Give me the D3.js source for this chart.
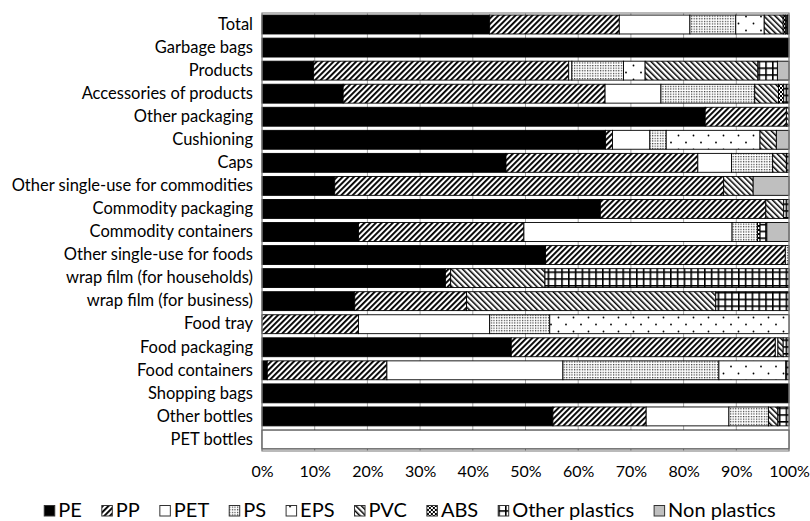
<!DOCTYPE html>
<html>
<head>
<meta charset="utf-8">
<script src="https://cdn.jsdelivr.net/npm/d3@7"></script>
<style>
  body { margin: 0; background: #fff; }
  text { font-family: Lato, "Open Sans", sans-serif; fill: #000; }
</style>
</head>
<body>
<div id="chart"></div>
<script>
const categories = [
  "Total", "Garbage bags", "Products", "Accessories of products", "Other packaging",
  "Cushioning", "Caps", "Other single-use for commodities", "Commodity packaging",
  "Commodity containers", "Other single-use for foods", "wrap film (for households)",
  "wrap film (for business)", "Food tray", "Food packaging", "Food containers",
  "Shopping bags", "Other bottles", "PET bottles"
];

const seriesNames = ["PE", "PP", "PET", "PS", "EPS", "PVC", "ABS", "Other plastics", "Non plastics"];

// percentages, one value per category (same order as above)
const PE    = [43.2, 100, 9.8, 15.4, 84.1, 65.2, 46.3, 13.8, 64.2, 18.3, 53.8, 34.8, 17.6, 0, 47.3, 1.0, 100, 55.2, 0];
const PP    = [24.6, 0, 48.4, 49.7, 15.4, 1.3, 36.4, 73.8, 31.4, 31.4, 45.5, 1.0, 21.2, 18.3, 50.1, 22.7, 0, 17.7, 0];
const PET   = [13.4, 0, 0.6, 10.6, 0, 7.1, 6.4, 0, 0, 39.5, 0, 0, 0, 24.9, 0.5, 33.4, 0, 15.7, 100];
const PS    = [8.7, 0, 9.8, 17.8, 0, 3.1, 7.8, 0, 0, 4.8, 0.7, 0, 0, 11.4, 0, 29.6, 0, 7.5, 0];
const EPS   = [5.4, 0, 4.1, 0, 0, 17.8, 0, 0, 0, 0, 0, 0, 0, 45.4, 0, 12.7, 0, 0, 0];
const PVC   = [3.6, 0, 21.4, 4.5, 0.5, 3.1, 2.6, 5.6, 3.4, 0, 0, 17.9, 47.3, 0, 1.0, 0, 0, 1.8, 0];
const ABS   = [0.4, 0, 0, 1.0, 0, 0, 0, 0, 0, 0.5, 0, 0, 0, 0, 0, 0, 0, 0, 0];
const otherPlastics = [0.4, 0, 3.7, 1.0, 0, 0, 0.5, 0, 1.0, 1.3, 0, 46.3, 13.9, 0, 1.1, 0.6, 0, 2.1, 0];
const nonPlastics   = [0.3, 0, 2.2, 0, 0, 2.4, 0, 6.8, 0, 4.2, 0, 0, 0, 0, 0, 0, 0, 0, 0];

const tickValues = [0, 0.1, 0.2, 0.3, 0.4, 0.5, 0.6, 0.7, 0.8, 0.9, 1];

const seriesValues = [PE, PP, PET, PS, EPS, PVC, ABS, otherPlastics, nonPlastics];

class StackedBarChart {
  constructor() {
    this.margin = { top: 13, right: 21, bottom: 70, left: 262 };
    this.width = 810 - this.margin.left - this.margin.right;
    this.height = 521 - this.margin.top - this.margin.bottom;

    this.svg = d3.select("#chart")
      .append("svg")
      .attr("width", 810)
      .attr("height", 521);

    this.defs = this.svg.append("defs");
    this.makePatterns();

    this.chart = this.svg.append("g")
      .attr("transform", `translate(${this.margin.left},${this.margin.top})`);

    // build rows for d3.stack
    this.rows = categories.map((c, i) => {
      const row = { category: c };
      seriesNames.forEach((s, j) => { row[s] = seriesValues[j][i]; });
      return row;
    });

    this.drawChart();
    this.drawLegend();
  }

  makePatterns() {
    const addPattern = (id, w, h) => {
      const p = this.defs.append("pattern")
        .attr("id", id)
        .attr("patternUnits", "userSpaceOnUse")
        .attr("width", w)
        .attr("height", h);
      p.append("rect").attr("width", w).attr("height", h).attr("fill", "#fff");
      return p;
    };

    // PP: wide upward diagonal
    const pp = addPattern("pat-pp", 4, 4).attr("patternTransform", "rotate(45)");
    pp.append("rect").attr("width", 1.9).attr("height", 4).attr("fill", "#000");

    // PS: fine dots
    const ps = addPattern("pat-ps", 2.6, 2.6);
    ps.append("rect").attr("x", 0).attr("y", 0).attr("width", 1.2).attr("height", 1.2).attr("fill", "#333");

    // EPS: sparse dots
    const eps = addPattern("pat-eps", 15, 14);
    eps.append("circle").attr("cx", 4).attr("cy", 3.5).attr("r", 0.9).attr("fill", "#000");
    eps.append("circle").attr("cx", 11.5).attr("cy", 10.5).attr("r", 0.9).attr("fill", "#000");

    // PVC: downward diagonal
    const pvc = addPattern("pat-pvc", 4, 4).attr("patternTransform", "rotate(-45)");
    pvc.append("rect").attr("width", 1.5).attr("height", 4).attr("fill", "#000");

    // ABS: small checker
    const abs = addPattern("pat-abs", 4, 4);
    abs.append("rect").attr("width", 2).attr("height", 2).attr("fill", "#000");
    abs.append("rect").attr("x", 2).attr("y", 2).attr("width", 2).attr("height", 2).attr("fill", "#000");

    // Other plastics: grid
    const grid = addPattern("pat-grid", 6.8, 6.8);
    grid.append("rect").attr("width", 6.8).attr("height", 1.6).attr("fill", "#000");
    grid.append("rect").attr("width", 1.6).attr("height", 6.8).attr("fill", "#000");
  }

  getFill(name) {
    if (name === "PE") {
      return "#000";
    } else if (name === "PP") {
      return "url(#pat-pp)";
    } else if (name === "PET") {
      return "#fff";
    } else if (name === "PS") {
      return "url(#pat-ps)";
    } else if (name === "EPS") {
      return "url(#pat-eps)";
    } else if (name === "PVC") {
      return "url(#pat-pvc)";
    } else if (name === "ABS") {
      return "url(#pat-abs)";
    } else if (name === "Other plastics") {
      return "url(#pat-grid)";
    }
    return "#bfbfbf";
  }

  drawChart() {
    this.xScale = d3.scaleLinear().domain([0, 1]).range([0, this.width]);
    this.yScale = d3.scaleBand()
      .domain(categories)
      .range([0, this.height])
      .paddingInner(0.18)
      .paddingOuter(0.09);

    // gridlines
    this.chart.append("g")
      .attr("class", "grid")
      .selectAll("line")
      .data(tickValues)
      .enter().append("line")
      .attr("x1", d => this.xScale(d))
      .attr("x2", d => this.xScale(d))
      .attr("y1", 0)
      .attr("y2", this.height)
      .style("stroke", "#a6a6a6")
      .style("stroke-width", 1);

    const stack = d3.stack()
      .keys(seriesNames)
      .offset(d3.stackOffsetExpand);
    const stacked = stack(this.rows);

    const layers = this.chart.selectAll(".layer")
      .data(stacked)
      .enter().append("g")
      .attr("class", "layer")
      .attr("fill", d => this.getFill(d.key));

    layers.selectAll("rect")
      .data(d => d.filter(p => p[1] - p[0] > 0))
      .enter().append("rect")
      .attr("x", d => this.xScale(d[0]))
      .attr("y", d => this.yScale(d.data.category))
      .attr("width", d => this.xScale(d[1]) - this.xScale(d[0]))
      .attr("height", this.yScale.bandwidth())
      .style("stroke", "#000")
      .style("stroke-width", 0.9);

    // plot border
    this.chart.append("rect")
      .attr("width", this.width)
      .attr("height", this.height)
      .attr("fill", "none")
      .style("stroke", "#8c8c8c")
      .style("stroke-width", 1.2);

    const xAxis = d3.axisBottom(this.xScale)
      .tickValues(tickValues)
      .tickFormat(d3.format(".0%"))
      .tickSize(0)
      .tickPadding(15);

    const yAxis = d3.axisLeft(this.yScale)
      .tickSize(0)
      .tickPadding(9);

    this.chart.append("g")
      .attr("class", "x-axis")
      .attr("transform", `translate(0, ${this.height})`)
      .call(xAxis)
      .call(g => g.select(".domain").remove())
      .selectAll("text")
      .style("font-size", "16px")
      .style("font-family", "Lato, 'Open Sans', sans-serif");

    this.chart.append("g")
      .attr("class", "y-axis")
      .call(yAxis)
      .call(g => g.select(".domain").remove())
      .selectAll("text")
      .style("font-size", "16.5px")
      .style("font-family", "Lato, 'Open Sans', sans-serif");
  }

  drawLegend() {
    const legend = this.svg.append("g").attr("class", "legend");
    let x = 0;
    seriesNames.forEach(name => {
      const item = legend.append("g").attr("transform", `translate(${x}, 0)`);
      item.append("rect")
        .attr("x", 0)
        .attr("y", -11.5)
        .attr("width", 10.5)
        .attr("height", 10.5)
        .attr("fill", this.getFill(name))
        .style("stroke", "#333")
        .style("stroke-width", 1);
      const label = item.append("text")
        .attr("x", 14)
        .attr("y", 0)
        .style("font-size", "20px")
        .text(name);
      x += 14 + label.node().getComputedTextLength() + 20;
    });
    const total = x - 20;
    legend.attr("transform", `translate(${410 - total / 2}, 517)`);
  }
}

new StackedBarChart();
</script>
</body>
</html>
